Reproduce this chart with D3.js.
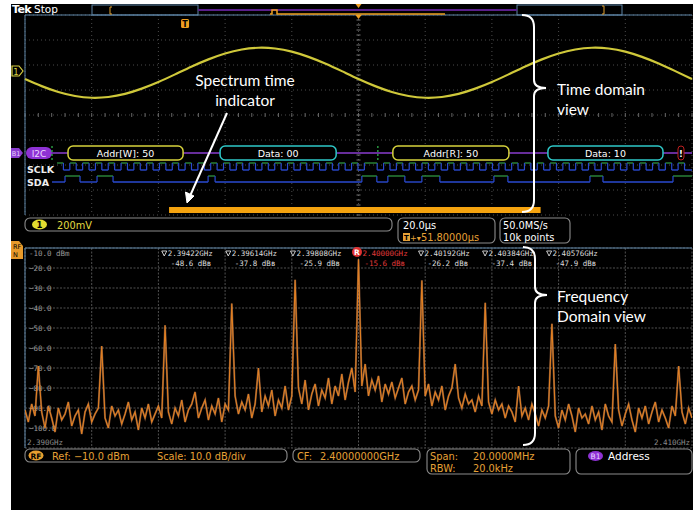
<!DOCTYPE html>
<html>
<head>
<meta charset="utf-8">
<script src="https://cdn.jsdelivr.net/npm/d3@7"></script>
<style>
  body { margin: 0; background: #fff; }
  svg { display: block; }
  text { font-family: "DejaVu Sans", sans-serif; }
  .note { font-family: Lato, "Open Sans", sans-serif; font-size: 15.5px; fill: #fff; }
  .mono { font-family: "DejaVu Sans Mono", monospace; }
</style>
</head>
<body>
<script>
// ---- time domain: channel 1 (volts), sampled every 5 us
const ch1Step = 5;
const ch1Volts = [
  -0.060, -0.117, -0.164, -0.196, -0.210, -0.204, -0.179, -0.137, -0.084, -0.023,
  0.040, 0.097, 0.144, 0.176, 0.190, 0.184, 0.159, 0.117, 0.064, 0.003,
  -0.060, -0.117, -0.164, -0.196, -0.210, -0.204, -0.179, -0.137, -0.084, -0.023,
  0.040, 0.097, 0.144, 0.176, 0.190, 0.184, 0.159, 0.117, 0.064, 0.003, -0.060
];

// ---- I2C bus decode (times in us)
const packetLabels = ["Addr[W]: 50", "Data: 00", "Addr[R]: 50", "Data: 10"];
const packetKinds = ["addr", "data", "addr", "data"];
const packetStart = [12.9, 58.5, 110.3, 156.8];
const packetEnd = [47.4, 93.3, 145.1, 191.3];
const startMarks = [8.1, 105.8];
const errorMark = 196.7;

// SCLK sampled every half clock, SDA as high intervals
const sclkStart = 9.6, sclkStep = 1.92;
const sclkBits = "1" + "0101010101010101010101010101010101010101010101" + "0" + "11" +
  "010101010101010101010101010101010101010101010101" + "0";
const sdaStart = 8.1;
const sdaHigh = [[12.0, 16.5], [21.6, 26.4], [54.9, 57.0], [101.0, 105.5], [108.8, 113.9],
  [119.0, 124.4], [140.6, 144.8], [169.4, 173.3], [194.3, 200]];

// spectrum time window (us)
const specWindow = [43.2, 154.6];

// ---- frequency domain (GHz, dBm), one sample every 0.1 MHz
const specStart = 2.390, specStep = 0.0001;
const specDb = [
  -91, -97, -88, -94, -69, -92, -100, -89, -95, -102,
  -90, -96, -93, -87, -99, -94, -91, -103, -92, -88,
  -97, -93, -90, -59, -95, -100, -89, -94, -91, -98,
  -93, -87, -96, -92, -101, -90, -95, -88, -97, -93,
  -89, -95, -48.6, -92, -98, -90, -94, -86, -97, -91,
  -88, -82, -95, -90, -86, -96, -89, -93, -85, -97,
  -88, -91, -37.8, -84, -93, -87, -91, -83, -95, -88,
  -70, -92, -84, -89, -81, -94, -86, -90, -79, -91,
  -84, -25.9, -80, -88, -76, -91, -83, -78, -89, -81,
  -85, -75, -88, -79, -84, -73, -86, -77, -70, -82,
  -15.6, -79, -68, -84, -76, -81, -74, -87, -78, -83,
  -77, -85, -80, -75, -88, -82, -79, -86, -81, -26.2,
  -84, -78, -89, -82, -86, -79, -91, -84, -80, -68,
  -85, -90, -83, -88, -86, -92, -84, -89, -37.4, -87,
  -93, -86, -91, -88, -95, -89, -92, -97, -79, -94,
  -90, -96, -88, -93, -99, -91, -95, -89, -47.9, -94,
  -100, -91, -96, -88, -94, -102, -90, -95, -93, -98,
  -89, -96, -92, -101, -88, -94, -97, -58, -91, -99,
  -93, -88, -96, -102, -90, -95, -89, -98, -92, -87,
  -97, -91, -95, -100, -89, -94, -69, -92, -98, -90,
  -95
];
const markerFreqs = [2.39422, 2.39614, 2.39808, 2.40000, 2.40192, 2.40384, 2.40576];
const markerDb = [-48.6, -37.8, -25.9, -15.6, -26.2, -37.4, -47.9];
const refMarker = 3;
const dbTicks = [-10, -20, -30, -40, -50, -60, -70, -80, -90, -100];

const W = 693, H = 510;
const svg = d3.select("body").append("svg").attr("width", W).attr("height", H);

// screen
svg.append("rect").attr("x", 11).attr("y", 4).attr("width", W - 11).attr("height", H - 4).attr("fill", "#000");

// ---- scales
const xT = d3.scaleLinear().domain([0, 200]).range([25, 692]);
const yV = d3.scaleLinear().domain([-1.148, 0.452]).range([215, 15]);
const xF = d3.scaleLinear().domain([2.390, 2.410]).range([25, 692]);
const yDb = d3.scaleLinear().domain([-110, -10]).range([448, 248]);

const gridCol = "#4a4a4a", borderCol = "#5f86a8";

// ---- time graticule
const tg = svg.append("g");
tg.selectAll(".tv").data(d3.range(0, 201, 20)).join("line")
  .attr("x1", d => xT(d)).attr("x2", d => xT(d)).attr("y1", 15).attr("y2", 215)
  .attr("stroke", gridCol).attr("stroke-dasharray", "1,3");
tg.selectAll(".th").data(d3.range(0, 9)).join("line")
  .attr("x1", 25).attr("x2", 692).attr("y1", d => 15 + d * 25).attr("y2", d => 15 + d * 25)
  .attr("stroke", gridCol).attr("stroke-dasharray", "1,3");
// center ticks
tg.selectAll(".ct").data(d3.range(0, 41)).join("line")
  .attr("x1", xT(100) - 2).attr("x2", xT(100) + 2).attr("y1", d => 15 + d * 5).attr("y2", d => 15 + d * 5)
  .attr("stroke", "#777");
tg.selectAll(".ch").data(d3.range(0, 51)).join("line")
  .attr("x1", d => xT(d * 4)).attr("x2", d => xT(d * 4)).attr("y1", 113).attr("y2", 117)
  .attr("stroke", "#666");
tg.append("line").attr("x1", 25).attr("x2", 692).attr("y1", 15).attr("y2", 15).attr("stroke", borderCol);
tg.append("line").attr("x1", 25).attr("x2", 25).attr("y1", 15).attr("y2", 215).attr("stroke", borderCol);

// ---- top record bar
svg.append("text").attr("x", 12).attr("y", 13).attr("fill", "#fff").attr("font-size", 11)
  .attr("font-weight", "bold").attr("letter-spacing", -0.6).text("Tek");
svg.append("text").attr("x", 34).attr("y", 13).attr("fill", "#fff").attr("font-size", 10.5).text("Stop");
svg.append("rect").attr("x", 92).attr("y", 5).attr("width", 106).attr("height", 10)
  .attr("fill", "none").attr("stroke", borderCol);
svg.append("rect").attr("x", 517).attr("y", 5).attr("width", 105).attr("height", 10)
  .attr("fill", "none").attr("stroke", borderCol);
svg.append("line").attr("x1", 198).attr("x2", 517).attr("y1", 10).attr("y2", 10)
  .attr("stroke", "#5a1f8a").attr("stroke-width", 2);
svg.append("path").attr("d", "M270,14 L272,14 L272,10 L277,10 L277,14 L445,14")
  .attr("fill", "none").attr("stroke", "#f0a020").attr("stroke-width", 1.5);
svg.append("path").attr("d", "M112,7 L110,7 L110,14 L112,14").attr("fill", "none").attr("stroke", "#e0a030");
svg.append("path").attr("d", "M602,6 L604,6 L604,14 L602,14").attr("fill", "none").attr("stroke", "#e0a030");
svg.append("path").attr("d", `M${xT(100) - 3},4 L${xT(100) + 3},4 L${xT(100)},8 Z`).attr("fill", "#f0a020");
svg.append("path").attr("d", `M${xT(100) - 3},15 L${xT(100) + 3},15 L${xT(100)},19 Z`).attr("fill", "#f0a020");
// trigger marker
svg.append("rect").attr("x", xT(48) - 4).attr("y", 19).attr("width", 8).attr("height", 9).attr("rx", 1.5).attr("fill", "#f0a020");
svg.append("text").attr("x", xT(48)).attr("y", 27).attr("text-anchor", "middle").attr("font-size", 8)
  .attr("font-weight", "bold").attr("fill", "#000").text("T");

// ---- channel 1 trace
svg.append("path").attr("d", "M12,66 L19,66 L23,71 L19,76 L12,76 Z")
  .attr("fill", "#000").attr("stroke", "#d8d040").attr("stroke-width", 1.2);
svg.append("text").attr("x", 16).attr("y", 74.5).attr("text-anchor", "middle").attr("font-size", 8.5)
  .attr("fill", "#d8d040").text("1");
const ch1Line = d3.line().x((d, i) => xT(i * ch1Step)).y(d => yV(d)).curve(d3.curveNatural);
svg.append("path").datum(ch1Volts).attr("d", ch1Line).attr("fill", "none")
  .attr("stroke", "#cfc83a").attr("stroke-width", 2.2);

// ---- bus
const busY = 153;
svg.append("line").attr("x1", 52).attr("x2", 692).attr("y1", busY).attr("y2", busY)
  .attr("stroke", "#8a3ccf").attr("stroke-width", 1.6);
svg.append("path").attr("d", "M11,148 L19,148 L23,153 L19,158 L11,158 Z").attr("fill", "#8a3ccf");
svg.append("text").attr("x", 16).attr("y", 156).attr("text-anchor", "middle").attr("font-size", 6.5)
  .attr("fill", "#e8d0ff").text("B1");
svg.append("rect").attr("x", 26).attr("y", 147).attr("width", 26).attr("height", 12).attr("rx", 6).attr("fill", "#8e32d4");
svg.append("text").attr("x", 39).attr("y", 156.5).attr("text-anchor", "middle").attr("font-size", 9)
  .attr("fill", "#ead6ff").text("I2C");
svg.selectAll(".pk").data(packetLabels).join("rect")
  .attr("x", (d, i) => xT(packetStart[i])).attr("y", busY - 7)
  .attr("width", (d, i) => xT(packetEnd[i]) - xT(packetStart[i])).attr("height", 14).attr("rx", 5)
  .attr("fill", "#000").attr("stroke", (d, i) => packetKinds[i] === "addr" ? "#d6d23c" : "#2ec8c8")
  .attr("stroke-width", 1.5);
svg.selectAll(".pt").data(packetLabels).join("text")
  .attr("x", (d, i) => (xT(packetStart[i]) + xT(packetEnd[i])) / 2).attr("y", busY + 3.5)
  .attr("text-anchor", "middle").attr("font-size", 9.5).attr("fill", "#fff").text(d => d);
svg.selectAll(".sm").data(startMarks).join("line")
  .attr("x1", d => xT(d)).attr("x2", d => xT(d)).attr("y1", busY - 7).attr("y2", busY + 7)
  .attr("stroke", "#2fb04a").attr("stroke-width", 1.3).attr("stroke-dasharray", "2,2");
svg.append("rect").attr("x", xT(errorMark) - 3).attr("y", busY - 7).attr("width", 6).attr("height", 14).attr("rx", 3)
  .attr("fill", "#000").attr("stroke", "#c02020");
svg.append("text").attr("x", xT(errorMark)).attr("y", busY + 3.5).attr("text-anchor", "middle")
  .attr("font-size", 8.5).attr("font-weight", "bold").attr("fill", "#fff").text("!");

// digital channels
const hiCol = "#2c8a3c", loCol = "#2a4ad0";
function drawDigital(runs, yHi, yLo) {
  runs.forEach((r, i) => {
    svg.append("line").attr("x1", xT(r.a)).attr("x2", xT(r.b))
      .attr("y1", r.v ? yHi : yLo).attr("y2", r.v ? yHi : yLo)
      .attr("stroke", r.v ? hiCol : loCol).attr("stroke-width", 1.4);
    if (i > 0) svg.append("line").attr("x1", xT(r.a)).attr("x2", xT(r.a)).attr("y1", yHi).attr("y2", yLo)
      .attr("stroke", loCol).attr("stroke-width", 1.2);
  });
}
const sclkRuns = [];
sclkBits.split("").forEach((c, i) => {
  const a = sclkStart + i * sclkStep, v = c === "1";
  const last = sclkRuns[sclkRuns.length - 1];
  if (last && last.v === v) last.b = a + sclkStep;
  else sclkRuns.push({ a: a, b: Math.min(200, a + sclkStep), v: v });
});
sclkRuns[sclkRuns.length - 1].b = 200;
const sdaRuns = [];
let tPrev = sdaStart;
sdaHigh.forEach(h => {
  sdaRuns.push({ a: tPrev, b: h[0], v: false });
  sdaRuns.push({ a: h[0], b: h[1], v: true });
  tPrev = h[1];
});
if (tPrev < 200) sdaRuns.push({ a: tPrev, b: 200, v: false });
drawDigital(sclkRuns, 163, 170);
drawDigital(sdaRuns, 176, 182);
svg.append("text").attr("x", 27).attr("y", 173).attr("font-size", 9.5).attr("font-weight", "bold").attr("fill", "#eee").text("SCLK");
svg.append("text").attr("x", 27).attr("y", 186).attr("font-size", 9.5).attr("font-weight", "bold").attr("fill", "#eee").text("SDA");

// spectrum time indicator
svg.append("rect").attr("x", xT(specWindow[0])).attr("y", 207)
  .attr("width", xT(specWindow[1]) - xT(specWindow[0])).attr("height", 6).attr("fill", "#f5a30f");

// ---- status readouts
function box(x, y, w, h) {
  svg.append("rect").attr("x", x).attr("y", y).attr("width", w).attr("height", h).attr("rx", 5)
    .attr("fill", "#000").attr("stroke", "#8c8c8c").attr("stroke-width", 1.1);
}
function label(x, y, s, col, size) {
  return svg.append("text").attr("x", x).attr("y", y).attr("font-size", size || 9.8).attr("fill", col).text(s);
}
const orange = "#e6a036";
box(25, 218, 367, 13);
svg.append("ellipse").attr("cx", 39.5).attr("cy", 224.5).attr("rx", 7.5).attr("ry", 5).attr("fill", "#e2dc30");
label(39.5, 228, "1", "#000", 8.5).attr("text-anchor", "middle").attr("font-weight", "bold");
label(57, 228.5, "200mV", "#e2dc40");
box(398, 218, 97, 25);
label(403, 229, "20.0µs", "#fff");
svg.append("rect").attr("x", 403).attr("y", 233).attr("width", 7).attr("height", 8).attr("fill", orange);
label(406.5, 240, "T", "#000", 7).attr("text-anchor", "middle").attr("font-weight", "bold");
label(410, 240.5, "+▾", orange, 8);
label(421, 241, "51.80000µs", orange);
box(500, 218, 70, 25);
label(503, 229, "50.0MS/s", "#fff");
label(503, 241, "10k points", "#fff");

// ---- spectrum graticule
const sg = svg.append("g");
sg.selectAll(".sv").data(d3.range(0, 11)).join("line")
  .attr("x1", d => xF(2.390 + d * 0.002)).attr("x2", d => xF(2.390 + d * 0.002)).attr("y1", 248).attr("y2", 448)
  .attr("stroke", "#505050").attr("stroke-dasharray", "2,1.5");
sg.selectAll(".sh").data(d3.range(-110, -9, 10)).join("line")
  .attr("x1", 25).attr("x2", 692).attr("y1", d => yDb(d)).attr("y2", d => yDb(d))
  .attr("stroke", "#505050").attr("stroke-dasharray", "2,1.5");
sg.append("line").attr("x1", 25).attr("x2", 692).attr("y1", 248).attr("y2", 248).attr("stroke", borderCol);
sg.append("line").attr("x1", 25).attr("x2", 25).attr("y1", 248).attr("y2", 448).attr("stroke", borderCol);
sg.selectAll(".yl").data(dbTicks).join("text").attr("class", "mono")
  .attr("x", 29).attr("y", d => d === -10 ? 256 : yDb(d) + 3)
  .attr("font-size", 7.5).attr("fill", "#9a9a9a")
  .text(d => d === -10 ? "-10.0 dBm" : d3.format(".1f")(d));
sg.append("text").attr("class", "mono").attr("x", 27).attr("y", 445).attr("font-size", 7.5).attr("fill", "#8a8a8a").text("2.390GHz");
sg.append("text").attr("class", "mono").attr("x", 690).attr("y", 445).attr("text-anchor", "end").attr("font-size", 7.5).attr("fill", "#8a8a8a").text("2.410GHz");
// RF badge
svg.append("path").attr("d", "M11,241 L19,241 L23,246 L23,259 L11,259 Z").attr("fill", "#e89a2a");
label(13, 249, "RF", "#000", 6.5);
label(13, 257, "N", "#000", 6.5);

// trace
svg.append("clipPath").attr("id", "specClip").append("rect").attr("x", 25).attr("y", 248).attr("width", 667).attr("height", 200);
const specLine = d3.line().x((d, i) => xF(specStart + i * specStep)).y(d => yDb(d));
svg.append("path").datum(specDb).attr("d", specLine).attr("clip-path", "url(#specClip)")
  .attr("fill", "none").attr("stroke", "#f0a070").attr("stroke-width", 2).attr("opacity", 0.45);
svg.append("path").datum(specDb).attr("d", specLine).attr("clip-path", "url(#specClip)")
  .attr("fill", "none").attr("stroke", "#e07f22").attr("stroke-width", 1.1);

// markers
markerFreqs.forEach((f, i) => {
  const x = xF(f);
  if (i === refMarker) {
    svg.append("circle").attr("cx", x - 1.5).attr("cy", 252).attr("r", 5).attr("fill", "#e03030");
    label(x - 1.5, 255, "R", "#fff", 7.5).attr("text-anchor", "middle").attr("font-weight", "bold");
    label(x + 4, 256, f.toFixed(5) + "GHz", "#e03a3a", 7.5).attr("class", "mono");
    label(x + 6, 266, markerDb[i] + " dB\u0299", "#e03a3a", 7.5).attr("class", "mono");
  } else {
    svg.append("path").attr("d", `M${x - 4},251 L${x + 1},251 L${x - 1.5},256 Z`)
      .attr("fill", "none").attr("stroke", "#ddd").attr("stroke-width", 0.9);
    label(x + 2, 256, f.toFixed(5) + "GHz", "#dcdcdc", 7.5).attr("class", "mono");
    label(x + 5, 266, markerDb[i] + " dB\u0299", "#dcdcdc", 7.5).attr("class", "mono");
  }
});

// spectrum readouts
box(25, 449, 262, 13);
svg.append("ellipse").attr("cx", 36).attr("cy", 455.5).attr("rx", 7.5).attr("ry", 5).attr("fill", "#e8a030");
label(36, 459, "RF", "#000", 7.5).attr("text-anchor", "middle").attr("font-weight", "bold");
label(52, 459.5, "Ref: \u221210.0 dBm", orange);
label(157, 459.5, "Scale: 10.0 dB/div", orange);
box(293, 449, 127, 13);
label(297, 459.5, "CF:", orange);
label(320, 459.5, "2.40000000GHz", orange);
box(427, 449, 143, 25);
label(430, 459.5, "Span:", orange);
label(473, 459.5, "20.0000MHz", orange);
label(430, 471.5, "RBW:", orange);
label(473, 471.5, "20.0kHz", orange);
box(576, 449, 116, 25);
svg.append("ellipse").attr("cx", 595.5).attr("cy", 456).attr("rx", 7.5).attr("ry", 5).attr("fill", "#8e32d4");
label(595.5, 459, "B1", "#e8d4ff", 7.5).attr("text-anchor", "middle");
label(608, 460, "Address", "#fff", 10.5);

// ---- annotations
function brace(x, y0, y1, tip) {
  return `M${x - 12},${y0} Q${x},${y0} ${x},${y0 + 12} L${x},${tip - 8} Q${x},${tip} ${x + 12},${tip}` +
    ` Q${x},${tip} ${x},${tip + 8} L${x},${y1 - 12} Q${x},${y1} ${x - 12},${y1}`;
}
svg.append("path").attr("d", brace(534, 15, 212, 88)).attr("fill", "none").attr("stroke", "#fff").attr("stroke-width", 2);
svg.append("path").attr("d", brace(535, 247, 445, 295)).attr("fill", "none").attr("stroke", "#fff").attr("stroke-width", 2);
svg.append("text").attr("class", "note").attr("x", 557).attr("y", 95).text("Time domain");
svg.append("text").attr("class", "note").attr("x", 557).attr("y", 115).text("view");
svg.append("text").attr("class", "note").attr("x", 557).attr("y", 302).text("Frequency");
svg.append("text").attr("class", "note").attr("x", 557).attr("y", 322).text("Domain view");
svg.append("text").attr("class", "note").attr("x", 245).attr("y", 86).attr("text-anchor", "middle").text("Spectrum time");
svg.append("text").attr("class", "note").attr("x", 245).attr("y", 106).attr("text-anchor", "middle").text("indicator");
svg.append("line").attr("x1", 227).attr("y1", 113).attr("x2", 190).attr("y2", 196).attr("stroke", "#fff").attr("stroke-width", 2);
svg.append("path").attr("d", "M187,203 L185.5,192 L194,196 Z").attr("fill", "#fff").attr("stroke", "#fff");
</script>
</body>
</html>
